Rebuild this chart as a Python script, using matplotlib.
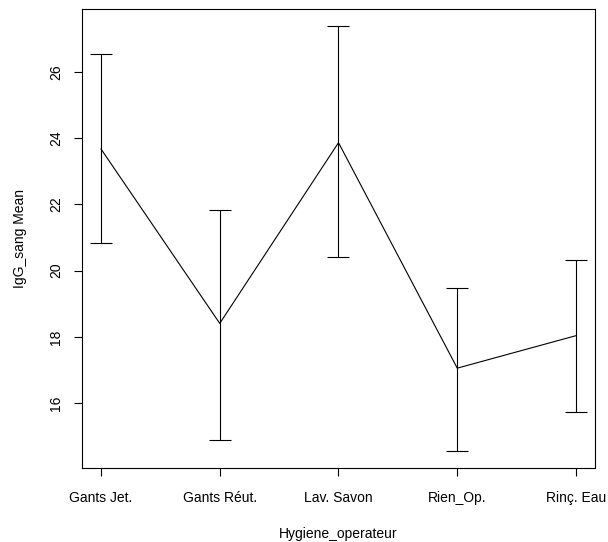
import matplotlib
matplotlib.use("Agg")
import matplotlib.pyplot as plt
import numpy as np

categories = ["Gants Jet.", "Gants Réut.", "Lav. Savon", "Rien_Op.", "Rinç. Eau"]
means = [23.67, 18.41, 23.86, 17.06, 18.04]
upper = [26.54, 21.82, 27.38, 19.47, 20.32]
lower = [20.84, 14.88, 20.42, 14.57, 15.75]
yticks = [16, 18, 20, 22, 24, 26]

plt.rcParams['font.family'] = ['Liberation Sans', 'DejaVu Sans']

fig = plt.figure(figsize=(6.08, 5.42), dpi=100)
ax = fig.add_axes([82/608, 1-468.3/542, (595-82)/608, (468.3-8.7)/542])

x = np.arange(1, len(categories)+1)
m = np.array(means)
up = np.array(upper)
lo = np.array(lower)
ax.plot(x, m, color='black', lw=0.8)
ax.errorbar(x, m, yerr=[m-lo, up-m], fmt='none', ecolor='black', elinewidth=0.8,
            capsize=8, capthick=0.8)

ax.set_xlim(0.84, 5.16)
ax.set_ylim(14.04, 27.90)
ax.set_xticks(x)
ax.set_xticklabels(categories)
ax.set_yticks(yticks)
ax.set_yticklabels([str(t) for t in yticks], rotation=90, va='center')
ax.tick_params(direction='out', length=5.5, width=0.8, labelsize=10, colors='black')
ax.tick_params(axis='x', pad=11)
ax.tick_params(axis='y', pad=8)
for s in ax.spines.values():
    s.set_linewidth(0.8)
ax.set_xlabel("Hygiene_operateur", fontsize=10, labelpad=16)
ax.set_ylabel("IgG_sang Mean", fontsize=10, labelpad=16)

fig.savefig("out.png", dpi=100)
